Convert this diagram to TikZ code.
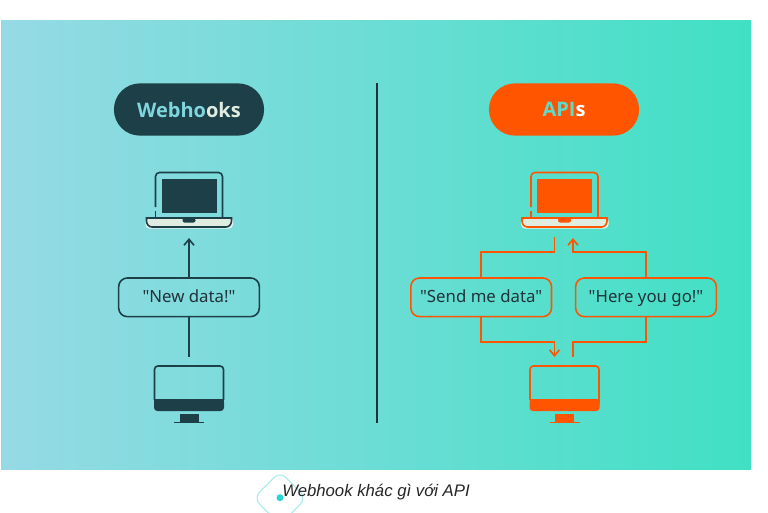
\documentclass[tikz,border=0pt]{standalone}
\usepackage{fontspec}
\newfontfamily\labfont{Noto Sans}
\newfontfamily\pillfont{Open Sans}
\newfontfamily\capfont{Liberation Sans}
\usetikzlibrary{arrows.meta}
\definecolor{dk}{HTML}{1D3F47}
\definecolor{org}{HTML}{FF5500}
\definecolor{bgl}{HTML}{96DAE5}
\definecolor{bgr}{HTML}{40E0C4}
\definecolor{cream}{HTML}{E0ECE0}
\definecolor{lblue}{HTML}{7FD6DF}
\definecolor{lteal}{HTML}{5FD9C8}
\definecolor{ink}{HTML}{22323A}
\definecolor{halo}{HTML}{A5EDE8}
\definecolor{dot}{HTML}{2CD5D5}
\tikzset{
  pill/.style={rounded corners=19.5pt,minimum width=112.6pt,minimum height=39.2pt,inner sep=0pt,font=\pillfont\fontsize{15}{18}\selectfont\bfseries},
  msg/.style={draw,line width=1.2pt,rounded corners=6.5pt,minimum height=29pt,inner sep=0pt,text height=10.5pt,text depth=2.5pt,text=ink,font=\labfont\fontsize{12.6}{15}\selectfont},
  wire/.style={line width=1.2pt},
  tip/.style={-{Straight Barb[length=4.5pt,width=7.5pt,line width=1.2pt]}},
}
\newcommand{\laptop}[2]{% centre x, colour
  \begin{scope}[shift={(#1,0)}]
    \fill[white!45!cream,rounded corners=3pt] (-43.5,217) rectangle (44,228.5);
    \draw[#2,line width=1.2pt,rounded corners=3pt] (-33.5,207) -- (-33.5,172.5) -- (33.5,172.5) -- (33.5,218);
    \draw[#2,line width=1.2pt] (-33.5,211) -- (-33.5,218);
    \fill[#2] (-27.5,179) rectangle (27.5,213);
    \draw[#2,line width=1.2pt,fill=cream] (-42.5,218) -- (42.5,218) -- (42.5,221) to[out=-90,in=0] (37,227) -- (-37,227) to[out=180,in=-90] (-42.5,221) -- cycle;
    \fill[#2,rounded corners=1.5pt] (-6.5,218) -- (6.5,218) -- (6.5,222.5) -- (-6.5,222.5) -- cycle;
  \end{scope}}
\newcommand{\monitor}[2]{%
  \begin{scope}[shift={(#1,0)}]
    \fill[#2,rounded corners=2.5pt] (-35,399) rectangle (35,411);
    \fill[#2] (-35,399) rectangle (35,404);
    \draw[#2,line width=1.2pt,rounded corners=2.5pt] (-34.5,400) -- (-34.5,366) -- (34.5,366) -- (34.5,400);
    \fill[#2] (-9.5,413.5) rectangle (9.5,422);
    \draw[#2,line width=1.2pt] (-15,422.5) -- (15,422.5);
  \end{scope}}
\begin{document}
\begin{tikzpicture}[x=0.75pt,y=-0.75pt]
  \useasboundingbox (0,0) rectangle (768,512);
  \fill[white] (0,0) rectangle (768,512);
  \shade[left color=bgl,right color=bgr] (1,20) rectangle (751,469.7);
  % divider
  \coordinate (divtop) at (376.7,83);
  \coordinate (divbot) at (376.7,423);
  \draw[ink,line width=1.6pt] (divtop) -- (divbot);
  % pills
  \node[pill,fill=dk] (hook) at (189,109.5) {\textcolor{lblue}{Webho}\textcolor{cream}{oks}};
  \node[pill,fill=org] (api) at (564,109.5) {\textcolor{lteal}{API}\textcolor{white}{s}};
  % devices
  \laptop{189}{dk}
  \laptop{564.5}{org}
  \monitor{189}{dk}
  \monitor{564.5}{org}
  % message boxes
  \node[msg,draw=dk,minimum width=105.5pt] (new) at (189,297.3) {"New data!"};
  \node[msg,draw=org,minimum width=105.5pt] (send) at (481.2,297.3) {"Send me data"};
  \node[msg,draw=org,minimum width=105.5pt] (here) at (646,297.3) {"Here you go!"};
  % left connectors
  \coordinate (lt) at (189,238);
  \coordinate (lb) at (189,357);
  \draw[wire,dk,tip] (new.north) -- (lt);
  \draw[wire,dk] (new.south) -- (lb);
  % right connectors
  \coordinate (st) at (554.5,237);
  \coordinate (stc) at (554.5,252);
  \coordinate (ht) at (573,238);
  \coordinate (htc) at (573,252);
  \coordinate (sb) at (554.5,357);
  \coordinate (sbc) at (554.5,342);
  \coordinate (hb) at (573,357);
  \coordinate (hbc) at (573,342);
  \draw[wire,org] (send.north) |- (stc) -- (st);
  \draw[wire,org,tip] (here.north) |- (htc) -- (ht);
  \draw[wire,org,tip] (send.south) |- (sbc) -- (sb);
  \draw[wire,org] (here.south) |- (hbc) -- (hb);
  % caption
  \begin{scope}
    \clip (0,470) rectangle (768,512);
    \draw[halo,line width=0.8pt,rounded corners=6.5pt] (280,471.5) -- (306.5,498) -- (280,524.5) -- (253.5,498) -- cycle;
  \end{scope}
  \fill[dot] (280,497.7) circle (3.5);
  \node[anchor=west,inner sep=0pt,font=\capfont\itshape\fontsize{12.55}{16}\selectfont,text=black!85] (cap) at (282,492.5) {Webhook khác gì với API};
\end{tikzpicture}
\end{document}
